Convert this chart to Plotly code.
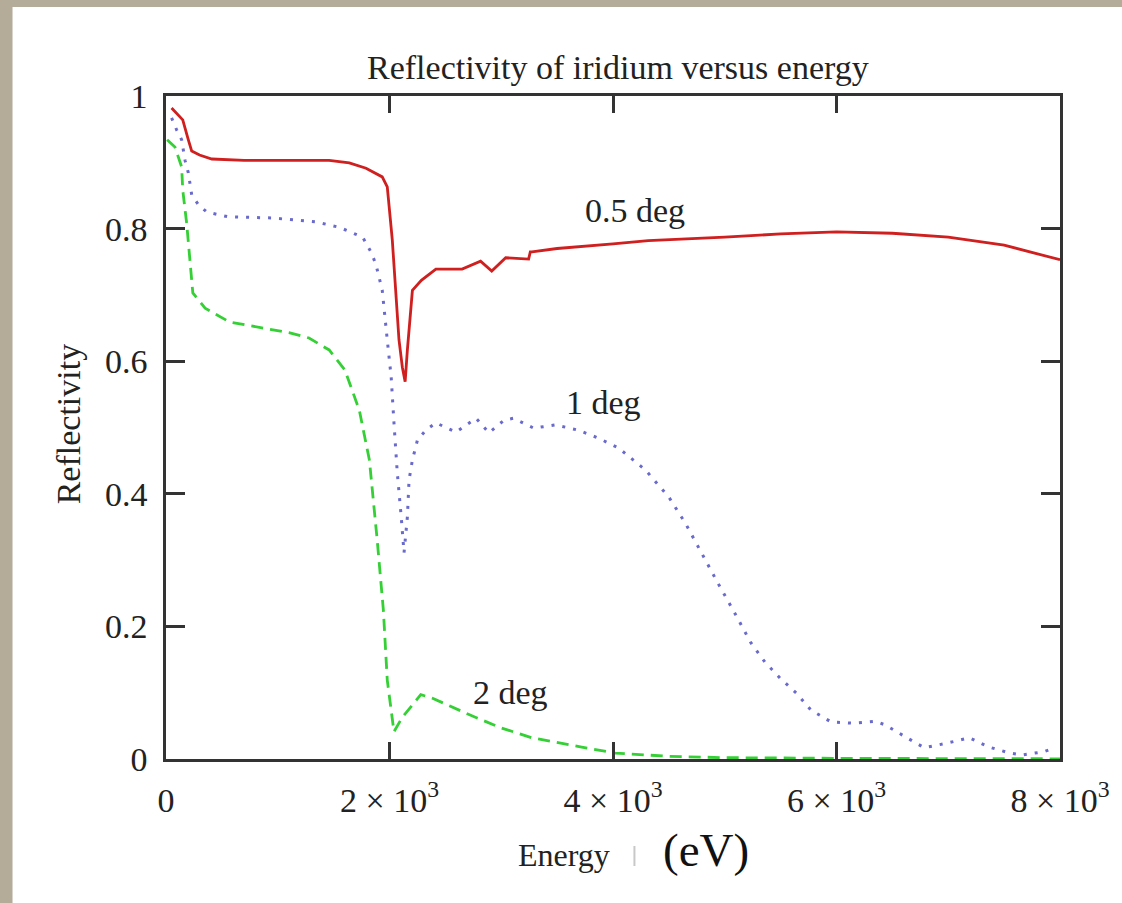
import plotly.graph_objects as go

# ---------------- data ----------------
energy_05 = [50, 150, 200, 230, 300, 410, 700, 1000, 1300, 1460, 1640, 1790, 1935, 1980,
             2025, 2060, 2085, 2115, 2140, 2160, 2195, 2205, 2285, 2415, 2650, 2815, 2915,
             3040, 3245, 3260, 3275, 3500, 4000, 4315, 5000, 5500, 6000, 6500, 7000, 7500, 8000]
refl_05 = [0.982, 0.964, 0.934, 0.917, 0.911, 0.905, 0.903, 0.903, 0.903, 0.903, 0.899, 0.891, 0.878, 0.863,
           0.783, 0.703, 0.632, 0.591, 0.569, 0.617, 0.682, 0.707, 0.722, 0.739, 0.739, 0.751, 0.736,
           0.756, 0.754, 0.765, 0.765, 0.770, 0.777, 0.782, 0.787, 0.792, 0.795, 0.793, 0.787, 0.775, 0.753]

energy_1 = [50, 95, 140, 170, 200, 230, 290, 365, 550, 950, 1345, 1550, 1760, 1840, 1880, 1935, 1980,
            2015, 2040, 2070, 2105, 2130, 2160, 2175, 2205, 2250, 2325, 2415, 2595, 2685, 2775, 2890,
            3025, 3110, 3290, 3485, 3690, 3870, 4050, 4290, 4500, 4650, 4790, 4940, 5090, 5235, 5360,
            5495, 5640, 5770, 5950, 6145, 6350, 6440, 6620, 6785, 6990, 7190, 7365, 7550, 7660, 7855, 7955]
refl_1 = [0.967, 0.949, 0.934, 0.903, 0.884, 0.851, 0.836, 0.825, 0.818, 0.816, 0.810, 0.802, 0.787, 0.763,
          0.745, 0.707, 0.632, 0.576, 0.507, 0.431, 0.365, 0.311, 0.365, 0.421, 0.451, 0.481, 0.496, 0.507,
          0.493, 0.504, 0.514, 0.492, 0.511, 0.514, 0.499, 0.504, 0.496, 0.484, 0.469, 0.436, 0.395, 0.355,
          0.311, 0.265, 0.220, 0.175, 0.146, 0.122, 0.0995, 0.074, 0.056, 0.054, 0.057, 0.051, 0.033, 0.017,
          0.024, 0.032, 0.018, 0.009, 0.006, 0.011, 0.017]

energy_2 = [10, 80, 140, 150, 185, 215, 240, 350, 570, 1100, 1280, 1460, 1600, 1730, 1820, 1890, 1945,
            1980, 2040, 2115, 2280, 2380, 2685, 2980, 3275, 3720, 4020, 4500, 5000, 6000, 7000, 8000]
refl_2 = [0.934, 0.923, 0.893, 0.858, 0.808, 0.753, 0.703, 0.680, 0.659, 0.643, 0.635, 0.617, 0.587, 0.526,
          0.451, 0.330, 0.225, 0.119, 0.041, 0.063, 0.097, 0.092, 0.069, 0.048, 0.032, 0.018, 0.009, 0.004,
          0.002, 0.001, 0.0005, 0.0003]

x_tickvals = [0, 2000, 4000, 6000, 8000]
x_ticktext = ["0", "2 × 10<sup>3</sup>", "4 × 10<sup>3</sup>", "6 × 10<sup>3</sup>", "8 × 10<sup>3</sup>"]
y_tickvals = [0, 0.2, 0.4, 0.6, 0.8, 1]
y_ticktext = ["0", "0.2", "0.4", "0.6", "0.8", "1"]

title_text = "Reflectivity of iridium versus energy"
curve_labels = [("0.5 deg", 4200, 0.828), ("1 deg", 3915, 0.538), ("2 deg", 3086, 0.101)]

# ---------------- layout constants ----------------
W, H = 1122, 903
L, R, T, B = 166, 59, 96, 144
PW, PH = W - L - R, H - T - B
SERIF = "Liberation Serif, Times New Roman, serif"
TXT = "#222222"
FS = 34

def px_x(p):
    return (p - L) / PW

def px_y(p):
    return (H - B - p) / PH

fig = go.Figure()
fig.add_trace(go.Scatter(x=energy_05, y=refl_05, mode="lines", name="0.5 deg",
                         line=dict(color="#cf1f1f", width=2.8)))
fig.add_trace(go.Scatter(x=energy_1, y=refl_1, mode="lines", name="1 deg",
                         line=dict(color="#6a6acc", width=3, dash="3px,8px")))
fig.add_trace(go.Scatter(x=energy_2, y=refl_2, mode="lines", name="2 deg",
                         line=dict(color="#35d035", width=2.8, dash="12px,7px")))

annotations = [
    dict(text=title_text, x=px_x(620), y=px_y(68), xref="paper", yref="paper",
         showarrow=False, font=dict(family=SERIF, size=FS, color=TXT), xanchor="center", yanchor="middle"),
    dict(text="Reflectivity", x=px_x(68), y=px_y(424), xref="paper", yref="paper", textangle=-90,
         showarrow=False, font=dict(family=SERIF, size=FS, color=TXT), xanchor="center", yanchor="middle"),
    dict(text="Energy", x=px_x(565), y=px_y(855), xref="paper", yref="paper",
         showarrow=False, font=dict(family=SERIF, size=32, color=TXT), xanchor="center", yanchor="middle"),
    dict(text="(eV)", x=px_x(708), y=px_y(850), xref="paper", yref="paper",
         showarrow=False, font=dict(family=SERIF, size=47, color="#111111"),
         xanchor="center", yanchor="middle"),
]
for txt, ex, ry in curve_labels:
    annotations.append(dict(text=txt, x=ex, y=ry, xref="x", yref="y", showarrow=False,
                            font=dict(family=SERIF, size=FS, color=TXT), xanchor="center", yanchor="middle"))

fig.update_layout(
    width=W, height=H,
    margin=dict(l=L, r=R, t=T, b=B, pad=0),
    paper_bgcolor="#b5ab99",
    plot_bgcolor="white",
    showlegend=False,
    annotations=annotations,
    shapes=[
        dict(type="rect", xref="paper", yref="paper", x0=px_x(12), x1=px_x(W + 5),
             y0=px_y(H + 5), y1=px_y(7), fillcolor="white", line=dict(width=0), layer="below"),
        dict(type="line", xref="paper", yref="paper", x0=px_x(636), x1=px_x(636),
             y0=px_y(846), y1=px_y(866), line=dict(color="#c8c8c8", width=2), layer="below"),
    ],
)
fig.update_xaxes(range=[0, 8000], tickvals=x_tickvals, ticktext=x_ticktext, ticks="inside", ticklen=17,
                 tickwidth=2.5, tickcolor="#333", showline=True, linecolor="#333", linewidth=2.5,
                 mirror="ticks", showgrid=False, zeroline=False,
                 tickfont=dict(family=SERIF, size=FS, color=TXT), ticklabelstandoff=9)
fig.update_yaxes(range=[0, 1], tickvals=y_tickvals, ticktext=y_ticktext, ticks="inside", ticklen=19,
                 tickwidth=2.5, tickcolor="#333", showline=True, linecolor="#333", linewidth=2.5,
                 mirror="ticks", showgrid=False, zeroline=False,
                 tickfont=dict(family=SERIF, size=FS, color=TXT), ticklabelstandoff=9)

fig.write_html("out.html")
